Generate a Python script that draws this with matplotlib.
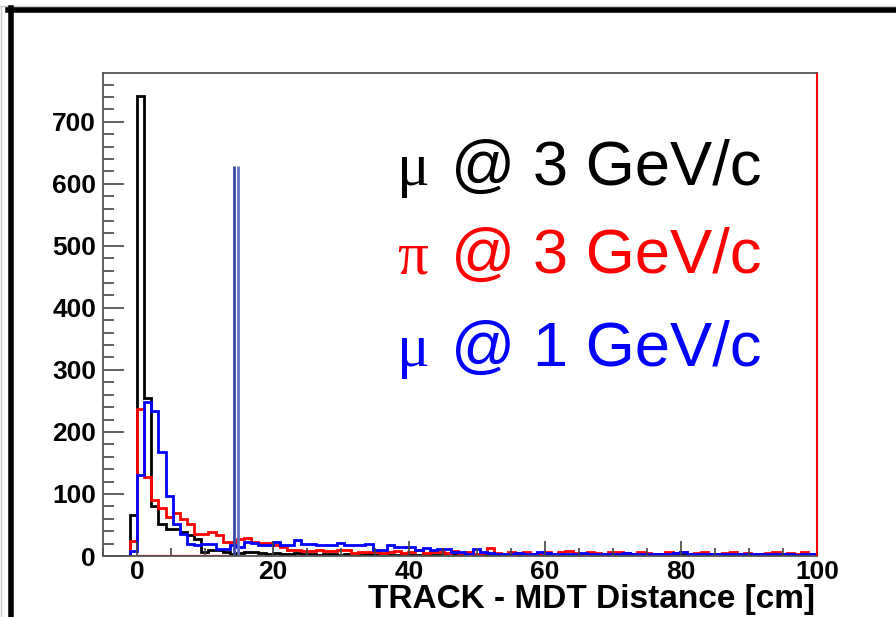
import numpy as np
import matplotlib.pyplot as plt
from matplotlib.lines import Line2D
from matplotlib.ticker import MultipleLocator

# histogram binning (ROOT style, 100 bins of 1.05 cm)
BIN_LO = -5.25
BIN_W = 1.05
N_BINS = 100

mu3_counts = [0, 0, 0, 0, 66, 742, 255, 80, 52, 43,
              43, 39, 34, 28, 6, 9, 9, 7, 4, 5,
              6, 7, 5, 4, 5, 3, 4, 5, 3, 4,
              2, 3, 4, 2, 3, 3, 2, 4, 2, 3,
              2, 2, 3, 1, 2, 3, 2, 1, 2, 3,
              1, 2, 1, 2, 1, 1, 2, 1, 2, 1,
              1, 2, 1, 1, 0, 1, 2, 1, 1, 0,
              1, 1, 2, 0, 1, 1, 0, 1, 2, 1,
              0, 1, 1, 0, 1, 2, 0, 1, 1, 0,
              1, 0, 1, 1, 0, 1, 0, 1, 1, 0]

pi3_counts = [0, 0, 0, 0, 24, 237, 127, 90, 78, 63,
              70, 60, 52, 35, 35, 39, 34, 23, 22, 28,
              29, 22, 21, 21, 17, 14, 10, 9, 8, 8,
              9, 8, 8, 9, 9, 5, 6, 6, 7, 5,
              6, 8, 5, 6, 9, 5, 6, 7, 5, 8,
              5, 6, 4, 5, 13, 5, 4, 6, 5, 6,
              3, 5, 7, 4, 6, 8, 5, 4, 6, 5,
              3, 6, 7, 5, 4, 6, 5, 3, 4, 6,
              5, 7, 4, 5, 6, 4, 3, 5, 6, 4,
              5, 3, 4, 5, 6, 3, 5, 4, 6, 4]

mu1_counts = [0, 0, 0, 0, 8, 130, 248, 233, 167, 97,
              51, 35, 20, 17, 20, 20, 12, 12, 17, 15,
              22, 21, 17, 18, 22, 18, 18, 25, 20, 20,
              17, 17, 17, 21, 17, 17, 17, 19, 9, 9,
              17, 15, 15, 15, 10, 13, 10, 12, 12, 7,
              7, 4, 12, 7, 5, 4, 4, 3, 5, 4,
              4, 6, 5, 3, 4, 4, 3, 5, 4, 3,
              4, 3, 4, 5, 3, 4, 3, 3, 4, 3,
              5, 6, 4, 3, 4, 3, 3, 4, 3, 4,
              3, 4, 3, 3, 4, 3, 3, 2, 3, 3]

labels = [('μ', '@ 3 GeV/c', 'black'),
          ('π', '@ 3 GeV/c', 'red'),
          ('μ', '@ 1 GeV/c', 'blue')]
label_baselines = [185, 273, 366]  # pixel rows from the top

cut_x = [14.2, 14.9]
cut_height = 628

edges = BIN_LO + BIN_W * np.arange(N_BINS + 1)

fig = plt.figure(figsize=(8.96, 6.17), dpi=100)
ax = fig.add_axes([103/896, 1 - 556/617, (817-103)/896, (556-72.7)/617])

ax.stairs(mu3_counts, edges, color='black', lw=2.0, baseline=0)
ax.stairs(pi3_counts, edges, color='red', lw=2.0, baseline=0)
ax.stairs(mu1_counts, edges, color='blue', lw=2.0, baseline=0)

ax.vlines(cut_x[0], 0, cut_height, color='#3a47a8', lw=2.0)
ax.vlines(cut_x[1], 0, cut_height, color='#6470c4', lw=2.0)
ax.hlines(0, 0, cut_x[0] - 0.5, color='red', lw=1.6)

ymax = 1.05 * max(mu3_counts)
ax.vlines(100, 0, ymax, color='red', lw=1.5, clip_on=False, zorder=5)

ax.set_xlim(-5, 100)
ax.set_ylim(0, ymax)

ax.xaxis.set_major_locator(MultipleLocator(20))
ax.xaxis.set_minor_locator(MultipleLocator(5))
ax.yaxis.set_major_locator(MultipleLocator(100))
ax.yaxis.set_minor_locator(MultipleLocator(20))

ax.tick_params(which='both', direction='in', top=False, right=False, color='#444444', width=1.2)
ax.tick_params(axis='y', which='major', length=15)
ax.tick_params(axis='y', which='minor', length=8)
ax.tick_params(axis='x', which='major', length=11)
ax.tick_params(axis='x', which='minor', length=5.5)
ax.tick_params(axis='y', pad=5)
ax.tick_params(axis='x', pad=3)
for lab in ax.get_xticklabels() + ax.get_yticklabels():
    lab.set_fontfamily('Liberation Sans')
    lab.set_fontweight('bold')
    lab.set_fontsize(19)

for sp in ax.spines.values():
    sp.set_color('#555555')
    sp.set_linewidth(1.3)

fig.text(815/896, 1 - 608/617, 'TRACK - MDT Distance [cm]', ha='right', va='baseline',
         fontsize=24, fontweight='bold', family='Liberation Sans')

# legend-like text labels
for (greek, rest, col), row in zip(labels, label_baselines):
    base = 1 - row/617
    fig.text(397/896, base, greek, ha='left', va='baseline', color=col,
             fontsize=44, family='Liberation Serif')
    fig.text(451/896, base, rest, ha='left', va='baseline', color=col,
             fontsize=45.5, family='Liberation Sans')

# slide frame
fig.add_artist(Line2D([0, 1], [1 - 6/617, 1 - 6/617], transform=fig.transFigure, color='#c8c8c8', lw=1))
fig.add_artist(Line2D([1/896, 1/896], [0, 1 - 6/617], transform=fig.transFigure, color='#c8c8c8', lw=1))
fig.add_artist(Line2D([8/896, 1], [1 - 9.5/617, 1 - 9.5/617], transform=fig.transFigure, color='black', lw=4))
fig.add_artist(Line2D([10.5/896, 10.5/896], [0, 1 - 8/617], transform=fig.transFigure, color='black', lw=4))

fig.savefig('out.png', dpi=100)
